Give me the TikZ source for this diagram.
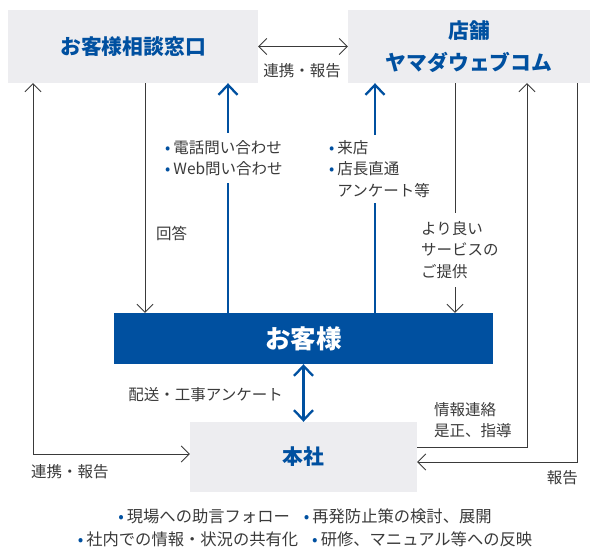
\documentclass[tikz,border=0pt]{standalone}
\usepackage{fontspec}
\setmainfont{Noto Sans CJK JP}
\usetikzlibrary{arrows.meta,positioning,calc}
\definecolor{ymblue}{HTML}{0050A0}
\definecolor{boxgray}{HTML}{EDEDF0}
\definecolor{txtgray}{HTML}{3A3A3A}
\newcommand{\bul}{{\color{ymblue}•}\hspace{3pt}}

\begin{document}
\begin{tikzpicture}[x=1pt, y=-1pt,
  barb/.tip={Straight Barb[length=8pt,width=16pt]},
  bbarb/.tip={Straight Barb[length=10pt,width=19pt]},
  box/.style={rectangle, fill=boxgray, align=center, text=ymblue, inner sep=0pt,
    font=\fontsize{20.8}{32}\selectfont\bfseries},
  lbl/.style={text=txtgray, align=left, inner sep=1pt, font=\fontsize{15.5}{21.5}\selectfont},
  thinarr/.style={draw=txtgray, line width=0.8pt, -barb},
  bluearr/.style={draw=ymblue, line width=2.3pt, -bbarb}
]
  \useasboundingbox (0,0) rectangle (592,548);

  \node[box, minimum width=250pt, minimum height=73pt] (madoguchi) at (133,46.5) {お客様相談窓口};
  \node[box, minimum width=242pt, minimum height=73pt] (tenpo) at (469,46.5) {店舗\\ヤマダウェブコム};
  \node[box, fill=ymblue, text=white, minimum width=379pt, minimum height=51pt,
    font=\fontsize{25.5}{28}\selectfont\bfseries] (kyaku) at (303.5,338.5) {お客様};
  \node[box, minimum width=227pt, minimum height=70pt] (honsha) at (303.5,457) {本社};

  % attach points on the box edges
  \coordinate (renkei) at ([xshift=-100pt]madoguchi.south);
  \coordinate (kaito) at ([xshift=12pt]madoguchi.south);
  \coordinate (toiawase) at ([xshift=95pt]madoguchi.south);
  \coordinate (raiten) at ([xshift=-94pt]tenpo.south);
  \coordinate (teikyo) at ([xshift=-14pt]tenpo.south);
  \coordinate (renraku) at ([xshift=58pt]tenpo.south);
  \coordinate (hokoku) at ([xshift=108pt]tenpo.south);

  \draw[thinarr, barb-barb] (madoguchi) -- (tenpo);
  \draw[thinarr, barb-barb] (renkei) |- ([yshift=3pt]honsha.west);
  \draw[thinarr] (kaito) -- (kaito |- kyaku.north);
  \draw[bluearr] (toiawase |- kyaku.north) -- (toiawase);
  \draw[bluearr] (raiten |- kyaku.north) -- (raiten);
  \draw[thinarr] (teikyo) -- (teikyo |- kyaku.north);
  \draw[thinarr] ([yshift=10pt]honsha.east) -| (renraku);
  \draw[thinarr] (hokoku) |- ([yshift=-5pt]honsha.east);
  \draw[bluearr, bbarb-bbarb] (kyaku) -- (honsha);

  % labels
  \node[lbl] (renkeilbl) at (302,71) {連携・報告};
  \node[lbl, anchor=west] (renkeilbl2) at (30,472) {連携・報告};
  \node[lbl, anchor=west] (kaitolbl) at (155,233) {回答};
  \node[lbl, fill=white, inner ysep=7pt, anchor=west] (toilbl) at (164,158)
    {\bul 電話問い合わせ\\\bul Web問い合わせ};
  \node[lbl, fill=white, inner ysep=5.5pt, anchor=west] (raitenlbl) at (328,169)
    {\bul 来店\\\bul 店長直通\\\phantom{\bul}アンケート等};
  \node[lbl, fill=white, inner ysep=8pt, anchor=west] (teikyolbl) at (420,250)
    {より良い\\サービスの\\ご提供};
  \node[lbl, anchor=east] (haisolbl) at (284,395) {配送・工事アンケート};
  \node[lbl, anchor=west] (renrakulbl) at (433,420) {情報連絡\\是正、指導};
  \node[lbl, anchor=east] (hokokulbl) at (579,478) {報告};
  \node[lbl, align=center, font=\fontsize{16.3}{23}\selectfont] (taisaku) at (305,528)
    {\bul 現場への助言フォロー\hspace{14pt}\bul 再発防止策の検討、展開\\
     \bul 社内での情報・状況の共有化\hspace{14pt}\bul 研修、マニュアル等への反映};
\end{tikzpicture}
\end{document}
